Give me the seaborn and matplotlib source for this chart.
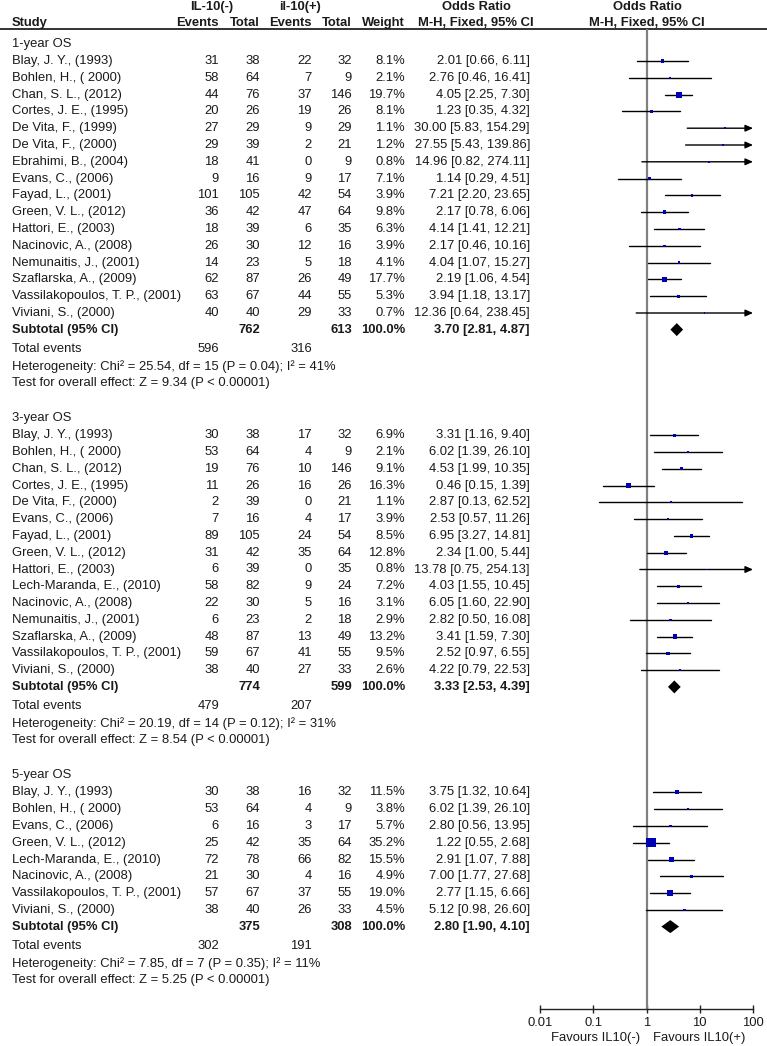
import numpy as np
import pandas as pd
import matplotlib
matplotlib.use("Agg")
import matplotlib.pyplot as plt
import seaborn as sns

# ---- data ----
GROUPS = ["1-year OS", "3-year OS", "5-year OS"]

studies_1y = ["Blay, J. Y., (1993)", "Bohlen, H., ( 2000)", "Chan, S. L., (2012)", "Cortes, J. E., (1995)",
              "De Vita, F., (1999)", "De Vita, F., (2000)", "Ebrahimi, B., (2004)", "Evans, C., (2006)",
              "Fayad, L., (2001)", "Green, V. L., (2012)", "Hattori, E., (2003)", "Nacinovic, A., (2008)",
              "Nemunaitis, J., (2001)", "Szaflarska, A., (2009)", "Vassilakopoulos, T. P., (2001)", "Viviani, S., (2000)"]
ev1_1y = [31, 58, 44, 20, 27, 29, 18, 9, 101, 36, 18, 26, 14, 62, 63, 40]
n1_1y = [38, 64, 76, 26, 29, 39, 41, 16, 105, 42, 39, 30, 23, 87, 67, 40]
ev2_1y = [22, 7, 37, 19, 9, 2, 0, 9, 42, 47, 6, 12, 5, 26, 44, 29]
n2_1y = [32, 9, 146, 26, 29, 21, 9, 17, 54, 64, 35, 16, 18, 49, 55, 33]
wt_1y = [8.1, 2.1, 19.7, 8.1, 1.1, 1.2, 0.8, 7.1, 3.9, 9.8, 6.3, 3.9, 4.1, 17.7, 5.3, 0.7]
or_1y = [2.01, 2.76, 4.05, 1.23, 30.00, 27.55, 14.96, 1.14, 7.21, 2.17, 4.14, 2.17, 4.04, 2.19, 3.94, 12.36]
lo_1y = [0.66, 0.46, 2.25, 0.35, 5.83, 5.43, 0.82, 0.29, 2.20, 0.78, 1.41, 0.46, 1.07, 1.06, 1.18, 0.64]
hi_1y = [6.11, 16.41, 7.30, 4.32, 154.29, 139.86, 274.11, 4.51, 23.65, 6.06, 12.21, 10.16, 15.27, 4.54, 13.17, 238.45]

studies_3y = ["Blay, J. Y., (1993)", "Bohlen, H., ( 2000)", "Chan, S. L., (2012)", "Cortes, J. E., (1995)",
              "De Vita, F., (2000)", "Evans, C., (2006)", "Fayad, L., (2001)", "Green, V. L., (2012)",
              "Hattori, E., (2003)", "Lech-Maranda, E., (2010)", "Nacinovic, A., (2008)", "Nemunaitis, J., (2001)",
              "Szaflarska, A., (2009)", "Vassilakopoulos, T. P., (2001)", "Viviani, S., (2000)"]
ev1_3y = [30, 53, 19, 11, 2, 7, 89, 31, 6, 58, 22, 6, 48, 59, 38]
n1_3y = [38, 64, 76, 26, 39, 16, 105, 42, 39, 82, 30, 23, 87, 67, 40]
ev2_3y = [17, 4, 10, 16, 0, 4, 24, 35, 0, 9, 5, 2, 13, 41, 27]
n2_3y = [32, 9, 146, 26, 21, 17, 54, 64, 35, 24, 16, 18, 49, 55, 33]
wt_3y = [6.9, 2.1, 9.1, 16.3, 1.1, 3.9, 8.5, 12.8, 0.8, 7.2, 3.1, 2.9, 13.2, 9.5, 2.6]
or_3y = [3.31, 6.02, 4.53, 0.46, 2.87, 2.53, 6.95, 2.34, 13.78, 4.03, 6.05, 2.82, 3.41, 2.52, 4.22]
lo_3y = [1.16, 1.39, 1.99, 0.15, 0.13, 0.57, 3.27, 1.00, 0.75, 1.55, 1.60, 0.50, 1.59, 0.97, 0.79]
hi_3y = [9.40, 26.10, 10.35, 1.39, 62.52, 11.26, 14.81, 5.44, 254.13, 10.45, 22.90, 16.08, 7.30, 6.55, 22.53]

studies_5y = ["Blay, J. Y., (1993)", "Bohlen, H., ( 2000)", "Evans, C., (2006)", "Green, V. L., (2012)",
              "Lech-Maranda, E., (2010)", "Nacinovic, A., (2008)", "Vassilakopoulos, T. P., (2001)", "Viviani, S., (2000)"]
ev1_5y = [30, 53, 6, 25, 72, 21, 57, 38]
n1_5y = [38, 64, 16, 42, 78, 30, 67, 40]
ev2_5y = [16, 4, 3, 35, 66, 4, 37, 26]
n2_5y = [32, 9, 17, 64, 82, 16, 55, 33]
wt_5y = [11.5, 3.8, 5.7, 35.2, 15.5, 4.9, 19.0, 4.5]
or_5y = [3.75, 6.02, 2.80, 1.22, 2.91, 7.00, 2.77, 5.12]
lo_5y = [1.32, 1.39, 0.56, 0.55, 1.07, 1.77, 1.15, 0.98]
hi_5y = [10.64, 26.10, 13.95, 2.68, 7.88, 27.68, 6.66, 26.60]

sub_n1 = [762, 774, 375]
sub_n2 = [613, 599, 308]
sub_or = [3.70, 3.33, 2.80]
sub_lo = [2.81, 2.53, 1.90]
sub_hi = [4.87, 4.39, 4.10]
tot_ev1 = [596, 479, 302]
tot_ev2 = [316, 207, 191]
het_text = ["Heterogeneity: Chi² = 25.54, df = 15 (P = 0.04); I² = 41%",
            "Heterogeneity: Chi² = 20.19, df = 14 (P = 0.12); I² = 31%",
            "Heterogeneity: Chi² = 7.85, df = 7 (P = 0.35); I² = 11%"]
test_text = ["Test for overall effect: Z = 9.34 (P < 0.00001)",
             "Test for overall effect: Z = 8.54 (P < 0.00001)",
             "Test for overall effect: Z = 5.25 (P < 0.00001)"]

x_ticks = [0.01, 0.1, 1, 10, 100]
x_ticklabels = ["0.01", "0.1", "1", "10", "100"]


def build_frame():
    parts = [
        (studies_1y, ev1_1y, n1_1y, ev2_1y, n2_1y, wt_1y, or_1y, lo_1y, hi_1y),
        (studies_3y, ev1_3y, n1_3y, ev2_3y, n2_3y, wt_3y, or_3y, lo_3y, hi_3y),
        (studies_5y, ev1_5y, n1_5y, ev2_5y, n2_5y, wt_5y, or_5y, lo_5y, hi_5y),
    ]
    frames = []
    for g, p in zip(GROUPS, parts):
        d = pd.DataFrame(dict(zip(["study", "e1", "n1", "e2", "n2", "w", "or", "lo", "hi"], p)))
        d["group"] = g
        frames.append(d)
    return pd.concat(frames, ignore_index=True)


# ---- layout (pixel rows, figure 767x1046) ----
W, H = 767, 1046
ROW = 16.8
AX_TOP, AX_BOT = 29, 1009
X_LEFT, X_RIGHT = 540, 753
COLS = {"study": 12, "e1": 219, "n1": 260, "e2": 312, "n2": 352, "w": 405, "or": 530}
TXT = "#1a1a1a"
FS = 9.4

sns.set_theme(style="white")
plt.rcParams["font.family"] = ["Liberation Sans", "DejaVu Sans"]

df = build_frame()

fig = plt.figure(figsize=(W / 100, H / 100), dpi=100)
tx = fig.add_axes([0, 0, 1, 1])
tx.set_xlim(0, W)
tx.set_ylim(H, 0)
tx.axis("off")

fx = fig.add_axes([X_LEFT / W, (H - AX_BOT) / H, (X_RIGHT - X_LEFT) / W, (AX_BOT - AX_TOP) / H])
fx.set_xscale("log")
fx.set_xlim(x_ticks[0], x_ticks[-1])
fx.set_ylim(AX_BOT, AX_TOP)
fx.patch.set_alpha(0)
for s in ["top", "left", "right"]:
    fx.spines[s].set_visible(False)
fx.spines["bottom"].set_color("#222222")
fx.spines["bottom"].set_linewidth(1.0)
fx.set_xticks(x_ticks)
fx.set_xticklabels(x_ticklabels)
fx.minorticks_off()
fx.tick_params(axis="x", direction="inout", length=6, width=1, color="#222222",
               pad=3, labelsize=FS, labelcolor=TXT, bottom=True)
fx.set_yticks([])

# header
def t(x, y, s, ha="right", bold=False):
    tx.text(x, y, s, ha=ha, va="center", fontsize=FS, color=TXT,
            fontweight="bold" if bold else "normal")

t(212, 7, "IL-10(-)", ha="center", bold=True)
t(300, 7, "il-10(+)", ha="center", bold=True)
t(476, 7, "Odds Ratio", ha="center", bold=True)
t(647, 7, "Odds Ratio", ha="center", bold=True)
t(COLS["study"], 23, "Study", ha="left", bold=True)
t(COLS["e1"], 23, "Events", bold=True)
t(COLS["n1"], 23, "Total", bold=True)
t(COLS["e2"], 23, "Events", bold=True)
t(COLS["n2"], 23, "Total", bold=True)
t(COLS["w"], 23, "Weight", bold=True)
t(476, 23, "M-H, Fixed, 95% CI", ha="center", bold=True)
t(647, 23, "M-H, Fixed, 95% CI", ha="center", bold=True)
tx.plot([0, W], [AX_TOP, AX_TOP], color="#222222", lw=1.3)

# null line
fx.axvline(1, color="#808080", lw=1.6, zorder=1)

y = 44
ys = []
for gi, g in enumerate(GROUPS):
    t(COLS["study"], y, g, ha="left")
    sub = df[df["group"] == g]
    y += 17
    for _, r in sub.iterrows():
        ys.append(y)
        t(COLS["study"], y, r["study"], ha="left")
        t(COLS["e1"], y, str(r["e1"]))
        t(COLS["n1"], y, str(r["n1"]))
        t(COLS["e2"], y, str(r["e2"]))
        t(COLS["n2"], y, str(r["n2"]))
        t(COLS["w"], y, f"{r['w']:.1f}%")
        t(COLS["or"], y, f"{r['or']:.2f} [{r['lo']:.2f}, {r['hi']:.2f}]")
        hi = min(r["hi"], x_ticks[-1])
        lo = max(r["lo"], x_ticks[0])
        if r["hi"] > x_ticks[-1]:
            fx.annotate("", xy=(hi, y), xytext=(lo, y),
                        arrowprops=dict(arrowstyle="-|>,head_length=0.45,head_width=0.2",
                                        color="black", lw=1, shrinkA=0, shrinkB=0,
                                        mutation_scale=10), zorder=2)
        else:
            fx.plot([lo, hi], [y, y], color="black", lw=1, zorder=2)
        y += ROW
    y = y - ROW + 16.6
    # subtotal
    t(COLS["study"], y, "Subtotal (95% CI)", ha="left", bold=True)
    t(COLS["n1"], y, str(sub_n1[gi]), bold=True)
    t(COLS["n2"], y, str(sub_n2[gi]), bold=True)
    t(COLS["w"], y, "100.0%", bold=True)
    t(COLS["or"], y, f"{sub_or[gi]:.2f} [{sub_lo[gi]:.2f}, {sub_hi[gi]:.2f}]", bold=True)
    fx.fill([sub_lo[gi], sub_or[gi], sub_hi[gi], sub_or[gi]], [y, y - 6.5, y, y + 6.5],
            color="black", lw=0, zorder=3)
    y += 19
    t(COLS["study"], y, "Total events", ha="left")
    t(COLS["e1"], y, str(tot_ev1[gi]))
    t(COLS["e2"], y, str(tot_ev2[gi]))
    y += 18
    t(COLS["study"], y, het_text[gi], ha="left")
    y += 16.5
    t(COLS["study"], y, test_text[gi], ha="left")
    y += 35

df["y"] = ys
side_pt = (1.5 + 0.22 * df["w"]) * 0.72
sns.scatterplot(data=df, x="or", y="y", marker="s", color="#0000b4", linewidth=0,
                s=(side_pt ** 2).to_numpy(), ax=fx, legend=False, zorder=4)
fx.set_xlabel("")
fx.set_ylabel("")
fx.set_ylim(AX_BOT, AX_TOP)

t(640, 1038, "Favours IL10(-)")
t(653, 1038, "Favours IL10(+)", ha="left")

fig.savefig("out.png", dpi=100)
